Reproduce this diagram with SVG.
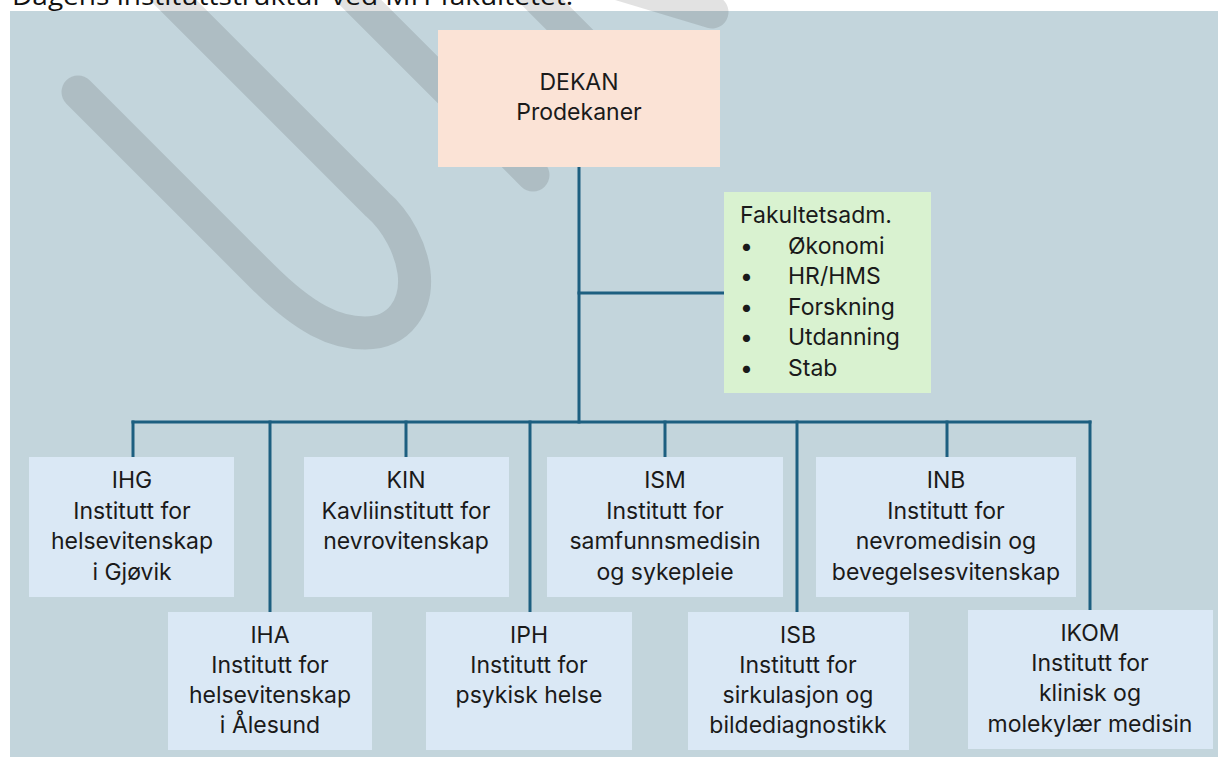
<svg xmlns="http://www.w3.org/2000/svg" width="1218" height="758" viewBox="0 0 1218 758">
<style>
  .t { font-family: Inter, "Liberation Sans", Arial, sans-serif; font-size: 23px; fill: #1a1a1a; }
  .c { text-anchor: middle; }
  .inst { fill: #dae8f5; }
  .conn { stroke: #1d5f80; stroke-width: 3; fill: none; stroke-linecap: square; }
  .wm { stroke: #282828; stroke-opacity: 0.135; stroke-width: 33; fill: none; stroke-linecap: round; stroke-linejoin: round; }
</style>
<rect x="0" y="0" width="1218" height="758" fill="#ffffff"/>
<text x="12" y="5" font-family="'Open Sans', 'Liberation Sans', sans-serif" font-size="26" fill="#111" textLength="561" lengthAdjust="spacingAndGlyphs">Dagens instituttstruktur ved MH-fakultetet.</text>
<rect id="panel" x="10" y="11" width="1208" height="746" fill="#c3d5dc"/>
<g id="watermark">
  <path class="wm" d="M 78,92 L 262,276 C 305,319 335,333 365,333 C 400,333 418,305 414,272 C 411,250 398,222 377,204 L 144,-29"/>
  <path class="wm" d="M 330,-28 L 533,175"/>
  <path class="wm" d="M 510,-30 L 640,100"/>
  <path class="wm" d="M 450,-67 L 712,12"/>
</g>
<g id="connectors">
  <line class="conn" x1="579" y1="167" x2="579" y2="422"/>
  <line class="conn" x1="579" y1="293" x2="724" y2="293"/>
  <line class="conn" x1="133" y1="422" x2="1090" y2="422"/>
  <line class="conn" x1="133" y1="422" x2="133" y2="457"/>
  <line class="conn" x1="270" y1="422" x2="270" y2="612"/>
  <line class="conn" x1="406" y1="422" x2="406" y2="457"/>
  <line class="conn" x1="530" y1="422" x2="530" y2="612"/>
  <line class="conn" x1="665" y1="422" x2="665" y2="457"/>
  <line class="conn" x1="797" y1="422" x2="797" y2="612"/>
  <line class="conn" x1="947" y1="422" x2="947" y2="457"/>
  <line class="conn" x1="1090" y1="422" x2="1090" y2="610"/>
</g>
<g id="dekan">
  <rect x="438" y="30" width="282" height="137" fill="#fbe3d6"/>
  <text class="t c" x="579" y="90">DEKAN</text>
  <text class="t c" x="579" y="120">Prodekaner</text>
</g>
<g id="fakultetsadm">
  <rect x="724" y="192" width="207" height="201" fill="#d9f2d0"/>
  <text class="t" x="740" y="223">Fakultetsadm.</text>
  <text class="t" x="740" y="254">•</text><text class="t" x="788" y="254">Økonomi</text>
  <text class="t" x="740" y="284">•</text><text class="t" x="788" y="284">HR/HMS</text>
  <text class="t" x="740" y="315">•</text><text class="t" x="788" y="315">Forskning</text>
  <text class="t" x="740" y="345">•</text><text class="t" x="788" y="345">Utdanning</text>
  <text class="t" x="740" y="376">•</text><text class="t" x="788" y="376">Stab</text>
</g>
<g id="IHG">
  <rect class="inst" x="29" y="457" width="205" height="140"/>
  <text class="t c" x="132" y="488">IHG</text>
  <text class="t c" x="132" y="519">Institutt for</text>
  <text class="t c" x="132" y="549">helsevitenskap</text>
  <text class="t c" x="132" y="580">i Gjøvik</text>
</g>
<g id="KIN">
  <rect class="inst" x="304" y="457" width="205" height="140"/>
  <text class="t c" x="406" y="488">KIN</text>
  <text class="t c" x="406" y="519">Kavliinstitutt for</text>
  <text class="t c" x="406" y="549">nevrovitenskap</text>
</g>
<g id="ISM">
  <rect class="inst" x="547" y="457" width="236" height="140"/>
  <text class="t c" x="665" y="488">ISM</text>
  <text class="t c" x="665" y="519">Institutt for</text>
  <text class="t c" x="665" y="549">samfunnsmedisin</text>
  <text class="t c" x="665" y="580">og sykepleie</text>
</g>
<g id="INB">
  <rect class="inst" x="816" y="457" width="260" height="140"/>
  <text class="t c" x="946" y="488">INB</text>
  <text class="t c" x="946" y="519">Institutt for</text>
  <text class="t c" x="946" y="549">nevromedisin og</text>
  <text class="t c" x="946" y="580">bevegelsesvitenskap</text>
</g>
<g id="IHA">
  <rect class="inst" x="168" y="612" width="204" height="138"/>
  <text class="t c" x="270" y="643">IHA</text>
  <text class="t c" x="270" y="673">Institutt for</text>
  <text class="t c" x="270" y="703">helsevitenskap</text>
  <text class="t c" x="270" y="733">i Ålesund</text>
</g>
<g id="IPH">
  <rect class="inst" x="426" y="612" width="206" height="138"/>
  <text class="t c" x="529" y="643">IPH</text>
  <text class="t c" x="529" y="673">Institutt for</text>
  <text class="t c" x="529" y="703">psykisk helse</text>
</g>
<g id="ISB">
  <rect class="inst" x="688" y="612" width="221" height="138"/>
  <text class="t c" x="798" y="643">ISB</text>
  <text class="t c" x="798" y="673">Institutt for</text>
  <text class="t c" x="798" y="703">sirkulasjon og</text>
  <text class="t c" x="798" y="733">bildediagnostikk</text>
</g>
<g id="IKOM">
  <rect class="inst" x="968" y="610" width="245" height="139"/>
  <text class="t c" x="1090" y="641">IKOM</text>
  <text class="t c" x="1090" y="671">Institutt for</text>
  <text class="t c" x="1090" y="701">klinisk og</text>
  <text class="t c" x="1090" y="732">molekylær medisin</text>
</g>
</svg>
